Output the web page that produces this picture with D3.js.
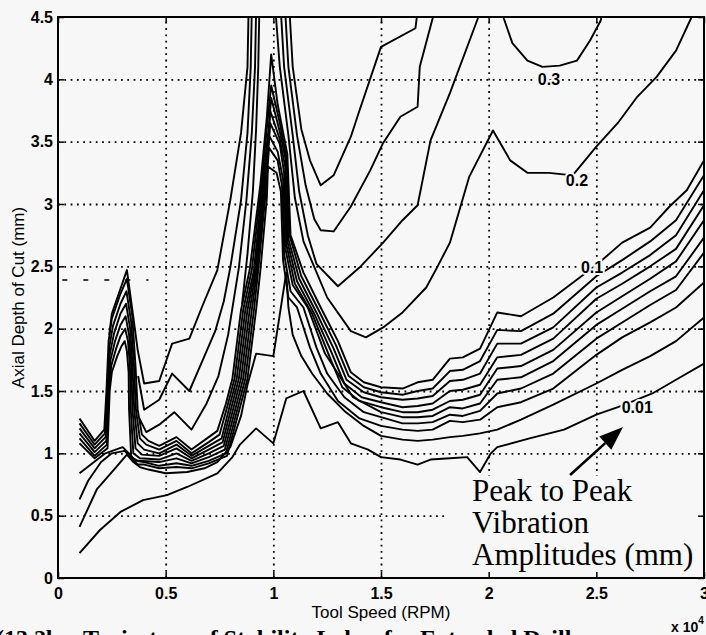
<!DOCTYPE html>
<html>
<head>
<meta charset="utf-8">
<script src="https://cdn.jsdelivr.net/npm/d3@7"></script>
<style>
  body { margin: 0; background: #f7f7f7; }
  svg { display: block; }
</style>
</head>
<body>
<svg id="chart" width="706" height="635"></svg>
<script>
// axes
const xTicks = [0, 0.5, 1, 1.5, 2, 2.5, 3];
const xTickLabels = ["0", "0.5", "1", "1.5", "2", "2.5", "3"];
const yTicks = [0, 0.5, 1, 1.5, 2, 2.5, 3, 3.5, 4, 4.5];
const yTickLabels = ["0", "0.5", "1", "1.5", "2", "2.5", "3", "3.5", "4", "4.5"];

// contour lines, [tool speed x1e4 RPM, axial depth mm]
const contour001 = [[0.10,0.20],[0.195,0.385],[0.29,0.53],[0.395,0.625],[0.506,0.665],[0.60,0.73],[0.74,0.84],[0.81,0.97],[0.845,1.07],[0.92,1.20],[1.00,1.08],[1.06,1.44],[1.14,1.50],[1.22,1.20],[1.30,1.25],[1.36,1.08],[1.44,1.03],[1.50,0.97],[1.59,0.95],[1.67,0.91],[1.73,0.95],[1.82,0.96],[1.90,0.97],[1.96,0.85],[2.01,1.00],[2.04,1.05],[2.19,1.12],[2.35,1.19],[2.50,1.31],[2.60,1.37],[2.66,1.41],[2.76,1.48],[2.89,1.61],[3.00,1.72]];

const contour002 = [[0.10,0.41],[0.18,0.71],[0.26,0.87],[0.32,0.99],[0.35,0.93],[0.38,0.89],[0.42,0.87],[0.50,0.84],[0.60,0.85],[0.68,0.88],[0.74,0.93],[0.80,1.05],[0.85,1.30],[0.88,1.55],[0.92,1.80],[1.00,1.78],[1.06,2.45],[1.07,2.17],[1.09,1.95],[1.13,1.78],[1.18,1.64],[1.25,1.48],[1.33,1.34],[1.42,1.22],[1.50,1.14],[1.60,1.11],[1.67,1.10],[1.74,1.11],[1.82,1.13],[1.88,1.14],[1.96,1.16],[2.04,1.19],[2.15,1.27],[2.30,1.39],[2.50,1.56],[2.62,1.67],[2.75,1.78],[2.87,1.90],[3.00,2.09]];

const contour003 = [[0.10,0.63],[0.14,0.78],[0.20,0.93],[0.25,1.00],[0.31,1.02],[0.34,0.96],[0.37,0.91],[0.40,0.91],[0.47,0.88],[0.55,0.89],[0.62,0.88],[0.70,0.92],[0.785,0.98],[0.85,1.40],[0.88,1.60],[0.92,2.15],[0.94,2.47],[0.97,3.05],[0.975,3.30],[1.015,3.25],[1.035,3.10],[1.045,2.55],[1.07,2.25],[1.11,2.17],[1.17,1.85],[1.22,1.64],[1.30,1.42],[1.40,1.28],[1.50,1.22],[1.60,1.19],[1.67,1.18],[1.74,1.19],[1.82,1.26],[1.88,1.25],[1.96,1.27],[2.04,1.37],[2.15,1.41],[2.30,1.52],[2.50,1.79],[2.62,1.93],[2.75,2.05],[2.87,2.17],[3.00,2.37]];

const contour004 = [[0.10,0.84],[0.16,0.92],[0.22,1.00],[0.30,1.05],[0.33,1.00],[0.36,0.94],[0.40,0.93],[0.47,0.90],[0.55,0.92],[0.62,0.90],[0.70,0.94],[0.78,1.00],[0.84,1.40],[0.87,1.60],[0.91,2.15],[0.93,2.47],[0.965,3.10],[0.98,3.45],[1.02,3.35],[1.04,3.15],[1.05,2.60],[1.08,2.30],[1.14,2.17],[1.20,1.85],[1.25,1.64],[1.33,1.45],[1.42,1.33],[1.50,1.29],[1.60,1.24],[1.67,1.24],[1.74,1.25],[1.82,1.31],[1.88,1.30],[1.96,1.34],[2.04,1.48],[2.15,1.52],[2.30,1.64],[2.50,1.92],[2.62,2.05],[2.75,2.19],[2.87,2.31],[3.00,2.61]];

const contour005 = [[0.10,1.08],[0.17,0.96],[0.23,1.04],[0.24,1.50],[0.25,1.65],[0.275,1.78],[0.295,1.86],[0.31,1.90],[0.32,1.82],[0.328,1.65],[0.33,1.35],[0.34,0.97],[0.37,0.94],[0.47,0.93],[0.55,0.96],[0.62,0.92],[0.70,0.97],[0.775,1.03],[0.83,1.40],[0.86,1.60],[0.90,2.15],[0.925,2.47],[0.962,3.16],[0.98,3.55],[1.02,3.42],[1.045,3.20],[1.055,2.65],[1.09,2.35],[1.16,2.17],[1.24,1.80],[1.30,1.64],[1.37,1.45],[1.50,1.33],[1.60,1.29],[1.67,1.29],[1.74,1.30],[1.82,1.37],[1.88,1.36],[1.96,1.40],[2.04,1.59],[2.15,1.61],[2.30,1.74],[2.50,2.03],[2.62,2.16],[2.75,2.30],[2.87,2.42],[3.00,2.73]];

const contour006 = [[0.10,1.12],[0.17,0.98],[0.227,1.07],[0.237,1.50],[0.247,1.70],[0.27,1.84],[0.29,1.94],[0.312,2.00],[0.325,1.90],[0.334,1.70],[0.338,1.35],[0.35,1.00],[0.38,0.96],[0.47,0.95],[0.55,1.00],[0.62,0.94],[0.70,1.00],[0.77,1.06],[0.82,1.40],[0.85,1.60],[0.89,2.15],[0.92,2.47],[0.96,3.16],[0.98,3.50],[0.985,3.65],[1.03,3.48],[1.05,3.25],[1.06,2.68],[1.10,2.36],[1.18,2.12],[1.26,1.78],[1.32,1.53],[1.40,1.42],[1.50,1.37],[1.60,1.33],[1.67,1.33],[1.74,1.35],[1.82,1.42],[1.88,1.43],[1.96,1.47],[2.04,1.68],[2.15,1.70],[2.30,1.83],[2.50,2.13],[2.62,2.26],[2.75,2.40],[2.87,2.54],[3.00,2.87]];

const contour007 = [[0.10,1.16],[0.17,1.01],[0.224,1.10],[0.234,1.50],[0.244,1.75],[0.265,1.90],[0.29,2.03],[0.314,2.10],[0.33,1.95],[0.34,1.70],[0.346,1.35],[0.36,1.04],[0.39,0.99],[0.47,0.98],[0.55,1.04],[0.62,0.96],[0.70,1.03],[0.765,1.09],[0.81,1.40],[0.84,1.60],[0.88,2.15],[0.915,2.47],[0.955,3.16],[0.98,3.55],[0.985,3.75],[1.03,3.52],[1.055,3.30],[1.065,2.70],[1.11,2.38],[1.19,2.12],[1.27,1.81],[1.33,1.56],[1.41,1.45],[1.50,1.41],[1.60,1.37],[1.67,1.38],[1.74,1.40],[1.82,1.50],[1.88,1.51],[1.96,1.55],[2.04,1.77],[2.15,1.79],[2.30,1.92],[2.50,2.24],[2.62,2.36],[2.75,2.50],[2.87,2.64],[3.00,2.99]];

const contour008 = [[0.10,1.20],[0.17,1.04],[0.221,1.13],[0.231,1.50],[0.241,1.80],[0.26,1.96],[0.29,2.12],[0.316,2.20],[0.335,2.00],[0.346,1.70],[0.354,1.35],[0.37,1.08],[0.40,1.03],[0.47,1.00],[0.55,1.07],[0.62,0.98],[0.70,1.06],[0.76,1.12],[0.80,1.40],[0.83,1.60],[0.87,2.15],[0.91,2.47],[0.95,3.16],[0.978,3.60],[0.99,3.85],[1.03,3.58],[1.058,3.35],[1.07,2.72],[1.12,2.40],[1.20,2.13],[1.28,1.84],[1.34,1.59],[1.42,1.49],[1.50,1.45],[1.60,1.43],[1.67,1.44],[1.74,1.46],[1.82,1.58],[1.88,1.59],[1.96,1.64],[2.04,1.88],[2.15,1.88],[2.30,2.01],[2.50,2.33],[2.62,2.45],[2.75,2.59],[2.87,2.75],[3.00,3.11]];

const contour009 = [[0.10,1.24],[0.17,1.07],[0.218,1.16],[0.228,1.50],[0.238,1.85],[0.255,2.02],[0.29,2.20],[0.318,2.30],[0.34,2.05],[0.353,1.70],[0.362,1.35],[0.38,1.12],[0.41,1.07],[0.47,1.03],[0.55,1.10],[0.62,1.00],[0.70,1.09],[0.75,1.15],[0.79,1.40],[0.82,1.60],[0.86,2.15],[0.90,2.47],[0.945,3.16],[0.975,3.70],[0.99,3.95],[1.03,3.65],[1.06,3.38],[1.075,2.75],[1.13,2.42],[1.21,2.15],[1.29,1.87],[1.35,1.62],[1.42,1.53],[1.50,1.49],[1.60,1.47],[1.67,1.50],[1.74,1.52],[1.82,1.66],[1.88,1.67],[1.96,1.74],[2.04,1.99],[2.15,1.98],[2.30,2.12],[2.50,2.42],[2.62,2.55],[2.75,2.70],[2.87,2.87],[3.00,3.23]];

const contour010 = [[0.10,1.28],[0.17,1.10],[0.215,1.19],[0.225,1.50],[0.235,1.90],[0.25,2.08],[0.29,2.28],[0.32,2.40],[0.345,2.10],[0.36,1.70],[0.37,1.35],[0.39,1.15],[0.42,1.10],[0.47,1.06],[0.55,1.13],[0.62,1.03],[0.70,1.13],[0.74,1.18],[0.78,1.40],[0.81,1.60],[0.85,2.15],[0.89,2.47],[0.94,3.16],[0.97,3.70],[0.99,4.20],[1.02,3.80],[1.065,3.40],[1.08,2.75],[1.14,2.45],[1.22,2.17],[1.30,1.90],[1.36,1.65],[1.42,1.57],[1.50,1.53],[1.60,1.52],[1.67,1.57],[1.74,1.59],[1.82,1.76],[1.88,1.77],[1.96,1.84],[2.04,2.13],[2.15,2.10],[2.30,2.25],[2.50,2.51],[2.62,2.69],[2.75,2.81],[2.84,2.98],[2.92,3.11],[3.00,3.35]];

// outer lines on the left of the main lobe
const upperLeft1 = [[0.238,1.95],[0.25,2.12],[0.32,2.47],[0.35,2.09],[0.37,1.83],[0.40,1.56],[0.47,1.58],[0.53,1.88],[0.61,1.92],[0.67,2.18],[0.74,2.47],[0.80,3.03],[0.85,3.57],[0.88,4.10],[0.885,4.55]];
const upperLeft2 = [[0.372,1.62],[0.40,1.35],[0.47,1.43],[0.53,1.64],[0.61,1.50],[0.67,1.74],[0.73,1.98],[0.77,2.22],[0.80,2.49],[0.85,3.03],[0.88,3.57],[0.895,4.10],[0.90,4.55]];
const upperLeft3 = [[0.378,1.28],[0.41,1.17],[0.47,1.23],[0.54,1.33],[0.62,1.19],[0.69,1.40],[0.745,1.62],[0.79,1.95],[0.84,2.49],[0.875,3.03],[0.90,3.57],[0.915,4.10],[0.92,4.55]];
const upperLeft4 = [[0.855,2.20],[0.88,2.60],[0.905,3.10],[0.92,3.60],[0.93,4.10],[0.935,4.55]];

// outer lines on the right of the main lobe
const upperRight1 = [[1.075,4.55],[1.09,4.10],[1.13,3.60],[1.17,3.35],[1.22,3.15],[1.28,3.23],[1.36,3.54],[1.40,3.75],[1.50,4.26],[1.66,4.41],[1.67,4.55]];
const upperRight2 = [[1.055,4.55],[1.07,4.10],[1.11,3.55],[1.15,3.15],[1.19,2.88],[1.22,2.79],[1.28,2.78],[1.36,2.98],[1.45,3.27],[1.51,3.49],[1.59,3.70],[1.67,3.78],[1.68,4.10],[1.74,4.49],[1.745,4.55]];
const upperRight3 = [[1.035,4.55],[1.05,4.10],[1.09,3.55],[1.12,3.10],[1.16,2.75],[1.20,2.52],[1.30,2.34],[1.40,2.49],[1.51,2.69],[1.60,2.87],[1.67,2.99],[1.73,3.51],[1.82,3.89],[1.95,4.49],[1.96,4.55]];
const contour02 = [[1.01,4.55],[1.03,4.10],[1.07,3.55],[1.10,3.05],[1.14,2.70],[1.25,2.25],[1.36,1.98],[1.43,1.93],[1.51,2.01],[1.60,2.13],[1.71,2.33],[1.76,2.49],[1.82,2.69],[1.91,3.22],[2.02,3.59],[2.10,3.35],[2.18,3.25],[2.28,3.25],[2.39,3.23],[2.50,3.46],[2.60,3.65],[2.69,3.86],[2.78,4.02],[2.87,4.23],[2.94,4.49],[2.95,4.55]];
const contour03 = [[2.065,4.55],[2.07,4.49],[2.11,4.29],[2.18,4.15],[2.25,4.10],[2.33,4.11],[2.41,4.15],[2.47,4.31],[2.52,4.47],[2.53,4.55]];

// scan artefact: broken dash near 2.4 mm
const strayDash = [[0.02,2.39],[0.42,2.39]];

// inline contour labels
const labelText = ["0.3", "0.2", "0.1", "0.01"];
const labelX = [2.28, 2.41, 2.48, 2.69];
const labelY = [4.00, 3.19, 2.49, 1.37];

const arrowFrom = [2.378, 0.826];
const arrowTo = [2.624, 1.211];
const noteLines = ["Peak to Peak", "Vibration", "Amplitudes (mm)"];

const BG = "#f7f7f7";
const L = 58, R = 704, T = 17, B = 578;

const svg = d3.select("#chart");
const x = d3.scaleLinear().domain([0, 3]).range([L, R]);
const y = d3.scaleLinear().domain([0, 4.5]).range([B, T]);

svg.append("rect").attr("width", 706).attr("height", 635).attr("fill", BG);

svg.append("clipPath").attr("id", "plotClip")
  .append("rect").attr("x", L).attr("y", T).attr("width", R - L).attr("height", B - T);

// dotted grid
const gx = svg.append("g").attr("transform", `translate(0,${B})`)
  .call(d3.axisBottom(x).tickValues(xTicks.slice(1, -1)).tickSize(-(B - T)).tickFormat(""));
const gy = svg.append("g").attr("transform", `translate(${L},0)`)
  .call(d3.axisLeft(y).tickValues(yTicks.slice(1, -1)).tickSize(-(R - L)).tickFormat(""));
[gx, gy].forEach(g => {
  g.select(".domain").remove();
  g.selectAll("line").attr("stroke", "#000").attr("stroke-width", 1.8)
    .attr("stroke-dasharray", "1.8,4.5");
});

// note box hides grid under the text
svg.append("rect").attr("x", 447).attr("y", 476).attr("width", R - 447 - 1).attr("height", B - 476 - 1)
  .attr("fill", BG);

// contours
const lineGen = d3.line().x(d => x(d[0])).y(d => y(d[1]));
const allLines = [contour001, contour002, contour003, contour004, contour005, contour006,
  contour007, contour008, contour009, contour010,
  upperLeft1, upperLeft2, upperLeft3, upperLeft4,
  upperRight1, upperRight2, upperRight3, contour02, contour03];

const plot = svg.append("g").attr("clip-path", "url(#plotClip)");
plot.selectAll("path.c").data(allLines).join("path")
  .attr("class", "c")
  .attr("d", lineGen)
  .attr("fill", "none")
  .attr("stroke", "#000")
  .attr("stroke-width", 1.9)
  .attr("stroke-linejoin", "round");

plot.append("path").attr("d", lineGen(strayDash))
  .attr("stroke", "#000").attr("stroke-width", 1.6).attr("stroke-dasharray", "5,16");

// contour labels
svg.selectAll("text.lab").data(labelText).join("text")
  .attr("class", "lab")
  .attr("x", (d, i) => x(labelX[i]))
  .attr("y", (d, i) => y(labelY[i]))
  .attr("dy", "0.36em")
  .attr("text-anchor", "middle")
  .attr("font-family", "'Liberation Sans', Arial, sans-serif")
  .attr("font-weight", "bold")
  .attr("font-size", 16)
  .attr("paint-order", "stroke")
  .attr("stroke", BG).attr("stroke-width", 4)
  .attr("fill", "#000")
  .text(d => d);

// arrow
const ax0 = x(arrowFrom[0]), ay0 = y(arrowFrom[1]), ax1 = x(arrowTo[0]), ay1 = y(arrowTo[1]);
const ang = Math.atan2(ay1 - ay0, ax1 - ax0);
const headLen = 24, headW = 9;
const bx = ax1 - headLen * Math.cos(ang), by = ay1 - headLen * Math.sin(ang);
svg.append("line").attr("x1", ax0).attr("y1", ay0).attr("x2", bx).attr("y2", by)
  .attr("stroke", "#000").attr("stroke-width", 2.6);
svg.append("path")
  .attr("d", `M${ax1},${ay1}L${bx + headW * Math.sin(ang)},${by - headW * Math.cos(ang)}L${bx - headW * Math.sin(ang)},${by + headW * Math.cos(ang)}Z`)
  .attr("fill", "#000");

// note text
svg.selectAll("text.note").data(noteLines).join("text")
  .attr("class", "note")
  .attr("x", 472)
  .attr("y", (d, i) => 501 + i * 32)
  .attr("font-family", "'Liberation Serif', 'Times New Roman', serif")
  .attr("font-size", 31)
  .attr("fill", "#000")
  .text(d => d);

// axes with inward ticks
const tickFont = g => g.selectAll("text")
  .attr("font-family", "'Liberation Sans', Arial, sans-serif")
  .attr("font-weight", "bold").attr("font-size", 16).attr("fill", "#000");

svg.append("g").attr("transform", `translate(0,${B})`)
  .call(d3.axisBottom(x).tickValues(xTicks).tickFormat((d, i) => xTickLabels[i]).tickSize(-6).tickPadding(10))
  .call(g => g.select(".domain").remove())
  .call(g => g.selectAll("line").attr("stroke", "#000").attr("stroke-width", 1.5))
  .call(tickFont);
svg.append("g").attr("transform", `translate(${L},0)`)
  .call(d3.axisLeft(y).tickValues(yTicks).tickFormat((d, i) => yTickLabels[i]).tickSize(-6).tickPadding(5))
  .call(g => g.select(".domain").remove())
  .call(g => g.selectAll("line").attr("stroke", "#000").attr("stroke-width", 1.5))
  .call(tickFont);
svg.append("g").attr("transform", `translate(0,${T})`)
  .call(d3.axisTop(x).tickValues(xTicks).tickFormat("").tickSize(-6))
  .call(g => g.select(".domain").remove())
  .call(g => g.selectAll("line").attr("stroke", "#000").attr("stroke-width", 1.5));
svg.append("g").attr("transform", `translate(${R},0)`)
  .call(d3.axisRight(y).tickValues(yTicks).tickFormat("").tickSize(-6))
  .call(g => g.select(".domain").remove())
  .call(g => g.selectAll("line").attr("stroke", "#000").attr("stroke-width", 1.5));

svg.append("rect").attr("x", L).attr("y", T).attr("width", R - L).attr("height", B - T)
  .attr("fill", "none").attr("stroke", "#000").attr("stroke-width", 2);

// axis titles
svg.append("text")
  .attr("x", (L + R) / 2).attr("y", 618)
  .attr("text-anchor", "middle")
  .attr("font-family", "'Liberation Sans', Arial, sans-serif")
  .attr("font-size", 17).attr("fill", "#000")
  .text("Tool Speed (RPM)");

svg.append("text")
  .attr("transform", `translate(24,${(T + B) / 2}) rotate(-90)`)
  .attr("text-anchor", "middle")
  .attr("font-family", "'Liberation Sans', Arial, sans-serif")
  .attr("font-size", 17).attr("fill", "#000")
  .text("Axial Depth of Cut (mm)");

const mult = svg.append("text").attr("x", 671).attr("y", 632)
  .attr("font-family", "'Liberation Sans', Arial, sans-serif")
  .attr("font-weight", "bold").attr("font-size", 14).attr("fill", "#000");
mult.append("tspan").text("x 10");
mult.append("tspan").attr("dy", -8).attr("font-size", 10).text("4");

// figure caption, cut off at the bottom edge
svg.append("text").attr("x", -4).attr("y", 646)
  .attr("font-family", "'Liberation Serif', 'Times New Roman', serif")
  .attr("font-weight", "bold").attr("font-size", 24).attr("fill", "#000")
  .attr("xml:space", "preserve")
  .text("(13.2b    Trajectory of Stability Lobes for Extended Drill");
</script>
</body>
</html>
